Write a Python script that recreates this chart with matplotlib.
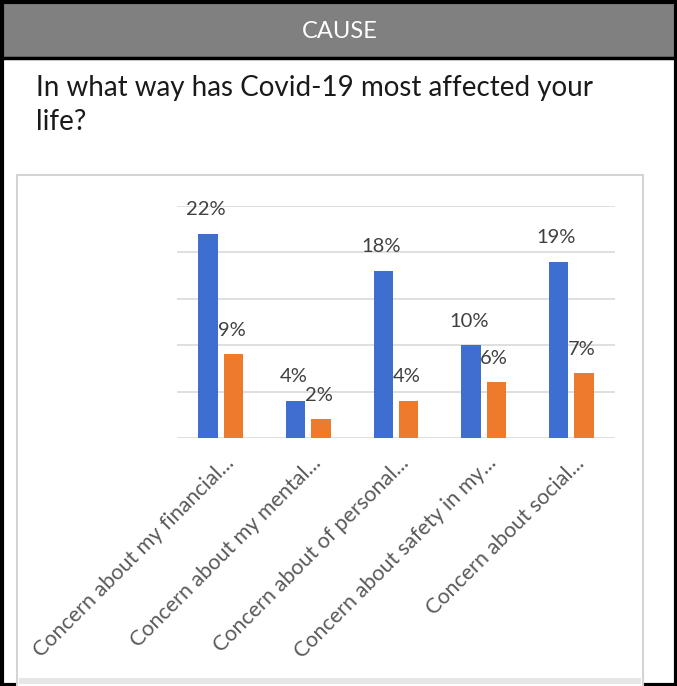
import matplotlib
matplotlib.use("Agg")
import matplotlib.pyplot as plt
from matplotlib.patches import Rectangle
import numpy as np

categories = [
    "Concern about my financial...",
    "Concern about my mental...",
    "Concern about of personal...",
    "Concern about safety in my...",
    "Concern about social...",
]
series_blue = [22, 4, 18, 10, 19]
series_orange = [9, 2, 4, 6, 7]
y_ticks = [0, 5, 10, 15, 20, 25]

header_text = "CAUSE"
question_lines = ["In what way has Covid-19 most affected your", "life?"]

W, H = 677, 686
fig = plt.figure(figsize=(W / 100, H / 100), dpi=100)
plt.rcParams['font.family'] = ['Lato', 'DejaVu Sans']

def fx(x):
    return x / W

def fy(y):
    return 1 - y / H

bg = fig.add_axes([0, 0, 1, 1])
bg.set_xlim(0, W)
bg.set_ylim(H, 0)
bg.axis('off')

bg.add_patch(Rectangle((0, 0), W, 57, facecolor='#808080', edgecolor='none'))
bg.plot([0, W], [57.5, 57.5], color='black', lw=2.5)
bg.add_patch(Rectangle((1.5, 1.5), W - 3, H - 3, facecolor='none', edgecolor='black', lw=3))
bg.text(340, 31, header_text, color='white', fontsize=17, ha='center', va='center')
bg.text(36, 88, question_lines[0], color='#1a1a1a', fontsize=20,
        ha='left', va='center')
bg.text(36, 122, question_lines[1], color='#1a1a1a', fontsize=20, ha='left', va='center')

bg.add_patch(Rectangle((17, 175), 626, 520, facecolor='white', edgecolor='#d4d4d4', lw=1.5))
bg.add_patch(Rectangle((19, 678), 622, 6, facecolor='#e6e6e6', edgecolor='none'))

left, right = 177, 615
base, top = 438, 206
ax = fig.add_axes([fx(left), fy(base), (right - left) / W, (base - top) / H])
ax.set_xlim(-0.5, len(categories) - 0.5)
ax.set_ylim(0, 25)
ax.patch.set_alpha(0)
for s in ax.spines.values():
    s.set_visible(False)
ax.set_yticks(y_ticks)
ax.yaxis.grid(True, color='#d9d9d9', lw=1.2)
ax.set_axisbelow(True)
ax.tick_params(axis='y', length=0, labelleft=False)
ax.tick_params(axis='x', length=0)

x = np.arange(len(categories))
w = 0.22
off = 0.145
bb = ax.bar(x - off, series_blue, w, color='#3E6FD0')
bo = ax.bar(x + off, series_orange, w, color='#EE7B2C')

for rect, v in zip(bb, series_blue):
    ax.annotate(f"{v}%", (rect.get_x() + rect.get_width() / 2, v), xytext=(-2, 24),
                textcoords='offset pixels', ha='center', va='center', fontsize=14.5, color='#404040')
for rect, v in zip(bo, series_orange):
    ax.annotate(f"{v}%", (rect.get_x() + rect.get_width() / 2, v), xytext=(-2, 24),
                textcoords='offset pixels', ha='center', va='center', fontsize=14.5, color='#404040')

ax.set_xticks(x)
ax.set_xticklabels([])
for xi, lab in zip(x, categories):
    ax.annotate(lab, (xi, 0), xytext=(10, -22), textcoords='offset pixels',
                rotation=45, rotation_mode='anchor', ha='right', va='center',
                fontsize=15.5, color='#595959', annotation_clip=False)

fig.savefig("out.png", dpi=100)
